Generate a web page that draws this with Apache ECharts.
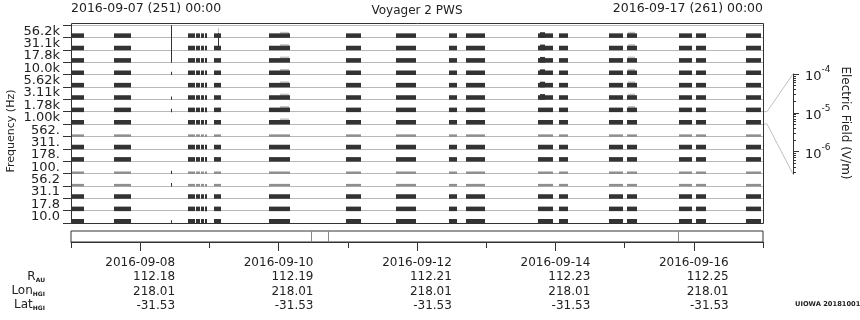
<!DOCTYPE html>
<html><head><meta charset="utf-8">
<script src="https://cdn.jsdelivr.net/npm/echarts@6/dist/echarts.min.js"></script>
<style>html,body{margin:0;padding:0;background:#fff}#c{width:860px;height:320px}</style>
</head><body><div id="c"></div>
<script>
// ---------- data ----------
const channels = ['56.2k','31.1k','17.8k','10.0k','5.62k','3.11k','1.78k','1.00k','562.','311.','178.','100.','56.2','31.1','17.8','10.0'];
// observation segments, days since 2016-09-07 00:00
const segStart = [0.000, 0.617, 1.691, 1.803, 1.876, 1.937, 2.063, 2.858, 3.971, 4.694, 5.461, 5.706, 6.751, 7.055, 7.778, 8.034, 8.786, 9.031, 9.754];
const segEnd   = [0.184, 0.873, 1.788, 1.861, 1.919, 1.972, 2.164, 3.162, 4.188, 4.979, 5.572, 5.981, 6.968, 7.177, 7.972, 8.179, 8.974, 9.176, 9.971];
// field level, log10(V/m)
const baseLevel = -5.74;
const weakChannels = [8, 11, 12];
const weakLevel = -6.16;
// short bursts above background (dark)
const burstStart = [6.780];
const burstEnd = [6.853];
const burstChannels = [0, 1, 2, 3, 4, 5];
const burstLevel = -5.50;
// faint speckles above background (grey)
const speckStart = [3.018, 8.048];
const speckEnd = [3.147, 8.149];
const speckChannels = [[0,1,2,3,4,5,6,7],[0,1,2,3,4,5,6]];
const speckLevel = -5.42;
// impulsive spikes: time, channel, level
const spikeTime = [1.446, 1.446, 1.446, 1.446, 1.446, 1.446, 1.446, 2.125];
const spikeChannel = [2, 3, 5, 6, 11, 12, 15, 1];
const spikeLevel = [1.12, -6.0, -6.0, -6.0, -6.0, -6.0, -6.0, -3.10];
const greySpikeTime = [2.125];
const greySpikeChannel = [0];
const greySpikeLevel = [-4.62];
// availability strip markers (days)
const stripMarks = [3.465, 3.716, 8.776];
// bottom tick table
const tickDays = [1, 3, 5, 7, 9];
const tickDates = ['2016-09-08','2016-09-10','2016-09-12','2016-09-14','2016-09-16'];
const tickRau = ['112.18','112.19','112.21','112.23','112.25'];
const tickLon = ['218.01','218.01','218.01','218.01','218.01'];
const tickLat = ['-31.53','-31.53','-31.53','-31.53','-31.53'];
const allDays = [0,1,2,3,4,5,6,7,8,9,10];
// colorbar
const CB_MIN = -6.575, CB_MAX = -4;
const cbMajor = [-6, -5, -4];

// ---------- build ----------
const FONT = 'DejaVu Sans';
const darkData = [], weakData = [], greyData = [];
channels.forEach((c, ch) => {
  const weak = weakChannels.indexOf(ch) >= 0;
  segStart.forEach((s, i) => {
    (weak ? weakData : darkData).push([s, segEnd[i], ch, weak ? weakLevel : baseLevel]);
  });
});
burstStart.forEach((s, i) => burstChannels.forEach(ch => darkData.push([s, burstEnd[i], ch, burstLevel])));
speckStart.forEach((s, i) => speckChannels[i].forEach(ch => greyData.push([s, speckEnd[i], ch, speckLevel])));
spikeTime.forEach((t, i) => darkData.push([t, t, spikeChannel[i], spikeLevel[i]]));
greySpikeTime.forEach((t, i) => greyData.push([t, t, greySpikeChannel[i], greySpikeLevel[i]]));

const cbMinor = [];
[-7, -6, -5].forEach(n => { for (let k = 2; k <= 9; k++) { const v = n + Math.log10(k); if (v > CB_MIN && v < CB_MAX) cbMinor.push(v); } });

function makeRender(color) {
  return function (params, api) {
    const s = api.value(0), e = api.value(1), ch = api.value(2), lv = api.value(3);
    const a = api.coord([s, ch]), b = api.coord([e, ch]);
    const band = api.size([0, 1])[1];
    const base = a[1] + band / 2;
    const h = (lv - CB_MIN) / (CB_MAX - CB_MIN) * band;
    const x = Math.round(a[0]);
    const w = Math.max(Math.round(b[0]) - x, 1);
    return { type: 'rect', shape: { x: x, y: base - h, width: w, height: h + 0.5 }, style: { fill: color } };
  };
}

const L = 71, W = 692;
const chart = echarts.init(document.getElementById('c'), null, { renderer: 'canvas' });
const hiddenX = (g) => ({ type: 'value', gridIndex: g, min: 0, max: 10, show: false });
const subRich = {
  m: { fontSize: 12, fontFamily: FONT, fill: '#222', color: '#222', verticalAlign: 'middle', lineHeight: 14 },
  s: { fontSize: 6, fontWeight: 'bold', fontFamily: FONT, color: '#222', fill: '#222', verticalAlign: 'bottom', lineHeight: 14 }
};
chart.setOption({
  animation: false,
  backgroundColor: '#fff',
  textStyle: { fontFamily: FONT },
  grid: [
    { left: L, top: 25, width: W, height: 198, outerBoundsMode: 'none', containLabel: false },
    { left: L, top: 231, width: W, height: 11, show: true, borderColor: '#333', borderWidth: 1, outerBoundsMode: 'none', containLabel: false },
    { left: L, top: 231, width: W, height: 11, outerBoundsMode: 'none', containLabel: false },
    { left: 793, top: 74, width: 1, height: 100, outerBoundsMode: 'none', containLabel: false },
    { left: 793, top: 74, width: 1, height: 100, outerBoundsMode: 'none', containLabel: false }
  ],
  xAxis: [
    hiddenX(0),
    { type: 'value', gridIndex: 1, min: 0, max: 10, position: 'bottom',
      axisLine: { show: true, lineStyle: { color: '#333' } },
      axisTick: { show: true, customValues: allDays, length: 6, lineStyle: { color: '#333' } },
      axisLabel: { show: false }, splitLine: { show: false } },
    { type: 'value', gridIndex: 2, min: 0, max: 10, position: 'bottom',
      axisLine: { show: false },
      axisTick: { show: true, customValues: tickDays, length: 9, lineStyle: { color: '#333' } },
      axisLabel: { show: true, customValues: tickDays, margin: 14, color: '#222', fontFamily: FONT,
        formatter: function (v) { const i = Math.round((v - 1) / 2); return '{d|' + tickDates[i] + '}\n{n|' + tickRau[i] + '}\n{n|' + tickLon[i] + '}\n{n|' + tickLat[i] + '}'; },
        rich: { d: { fontSize: 12, lineHeight: 14.2, fontFamily: FONT, color: '#222' }, n: { fontSize: 12, lineHeight: 14.2, align: 'right', fontFamily: FONT, color: '#222' } } },
      splitLine: { show: false } },
    { type: 'value', gridIndex: 3, min: 0, max: 1, show: false },
    { type: 'value', gridIndex: 4, min: 0, max: 1, show: false }
  ],
  yAxis: [
    { type: 'category', gridIndex: 0, data: channels, inverse: true, position: 'left',
      axisLine: { show: false },
      axisTick: { show: true, interval: 0, length: 8, lineStyle: { color: '#333' } },
      axisLabel: { interval: 0, margin: 11, fontSize: 13, color: '#222', fontFamily: FONT },
      splitLine: { show: true, interval: 0, lineStyle: { color: '#b8b8b8', width: 1 } } },
    { type: 'value', gridIndex: 1, min: 0, max: 1, show: false },
    { type: 'value', gridIndex: 2, min: 0, max: 1, show: false },
    { type: 'value', gridIndex: 3, min: CB_MIN, max: CB_MAX, position: 'left',
      axisLine: { show: true, lineStyle: { color: '#333' } },
      axisTick: { show: true, inside: true, customValues: cbMajor, length: 6, lineStyle: { color: '#333' } },
      axisLabel: { show: true, inside: true, customValues: cbMajor, margin: 12, color: '#222',
        formatter: v => '{b|10}{s|' + Math.round(v) + '}',
        rich: { b: { fontSize: 13, fontFamily: FONT, color: '#222', verticalAlign: 'bottom', lineHeight: 18 },
                s: { fontSize: 9, fontFamily: FONT, color: '#222', verticalAlign: 'top', lineHeight: 18 } } },
      splitLine: { show: false } },
    { type: 'value', gridIndex: 4, min: CB_MIN, max: CB_MAX, position: 'left',
      axisLine: { show: false },
      axisTick: { show: true, inside: true, customValues: cbMinor, length: 3, lineStyle: { color: '#333' } },
      axisLabel: { show: false }, splitLine: { show: false } }
  ],
  series: [
    { type: 'custom', xAxisIndex: 0, yAxisIndex: 0, renderItem: makeRender('#c2c2c2'), data: greyData, encode: { x: [0, 1], y: 2 }, clip: false, z: 2 },
    { type: 'custom', xAxisIndex: 0, yAxisIndex: 0, renderItem: makeRender('#8f8f8f'), data: weakData, encode: { x: [0, 1], y: 2 }, clip: false, z: 3 },
    { type: 'custom', xAxisIndex: 0, yAxisIndex: 0, renderItem: makeRender('#333333'), data: darkData, encode: { x: [0, 1], y: 2 }, clip: false, z: 4 },
    { type: 'custom', xAxisIndex: 1, yAxisIndex: 1, data: stripMarks.map(d => [d]), encode: { x: 0 },
      renderItem: function (params, api) {
        const p = api.coord([api.value(0), 0]), q = api.coord([api.value(0), 1]);
        const x = Math.round(p[0]) + 0.5;
        return { type: 'line', shape: { x1: x, y1: p[1], x2: x, y2: q[1] }, style: { stroke: '#888', lineWidth: 1 } };
      } }
  ],
  graphic: [
    { type: 'rect', shape: { x: 71.5, y: 23.5, width: 692, height: 200 }, style: { fill: 'none', stroke: '#333', lineWidth: 1 }, z: 10 },
    { type: 'text', x: 71, y: 8.5, style: { text: '2016-09-07 (251) 00:00', font: '12.5px "DejaVu Sans"', fill: '#222', align: 'left', verticalAlign: 'middle', textAlign: 'left', textVerticalAlign: 'middle' } },
    { type: 'text', x: 763, y: 8.5, style: { text: '2016-09-17 (261) 00:00', font: '12.5px "DejaVu Sans"', fill: '#222', align: 'right', verticalAlign: 'middle', textAlign: 'right', textVerticalAlign: 'middle' } },
    { type: 'text', x: 417, y: 10.5, style: { text: 'Voyager 2 PWS', font: '12px "DejaVu Sans"', fill: '#222', align: 'center', verticalAlign: 'middle', textAlign: 'center', textVerticalAlign: 'middle' } },
    { type: 'text', x: 11.5, y: 131, rotation: Math.PI / 2, style: { text: 'Frequency (Hz)', font: '11px "DejaVu Sans"', fill: '#222', align: 'center', verticalAlign: 'middle', textAlign: 'center', textVerticalAlign: 'middle' } },
    { type: 'text', x: 845, y: 123, rotation: -Math.PI / 2, style: { text: 'Electric Field (V/m)', font: '12px "DejaVu Sans"', fill: '#222', align: 'center', verticalAlign: 'middle', textAlign: 'center', textVerticalAlign: 'middle' } },
    { type: 'polyline', shape: { points: [[763, 111.6], [767, 111.6], [793, 74]] }, style: { fill: 'none', stroke: '#c0c0c0', lineWidth: 1 } },
    { type: 'polyline', shape: { points: [[763, 124], [767, 124], [793, 174]] }, style: { fill: 'none', stroke: '#c0c0c0', lineWidth: 1 } },
    { type: 'text', x: 45, y: 276.5, style: { text: '{m|R}{s|AU}', rich: subRich, align: 'right', verticalAlign: 'middle', textAlign: 'right', textVerticalAlign: 'middle' } },
    { type: 'text', x: 45, y: 290.7, style: { text: '{m|Lon}{s|HGI}', rich: subRich, align: 'right', verticalAlign: 'middle', textAlign: 'right', textVerticalAlign: 'middle' } },
    { type: 'text', x: 45, y: 304.9, style: { text: '{m|Lat}{s|HGI}', rich: subRich, align: 'right', verticalAlign: 'middle', textAlign: 'right', textVerticalAlign: 'middle' } },
    { type: 'text', x: 795, y: 304.7, style: { text: 'UIOWA 20181001', font: 'bold 6.7px "DejaVu Sans"', fill: '#222', align: 'left', verticalAlign: 'middle', textAlign: 'left', textVerticalAlign: 'middle' } }
  ]
});
</script>
</body></html>
